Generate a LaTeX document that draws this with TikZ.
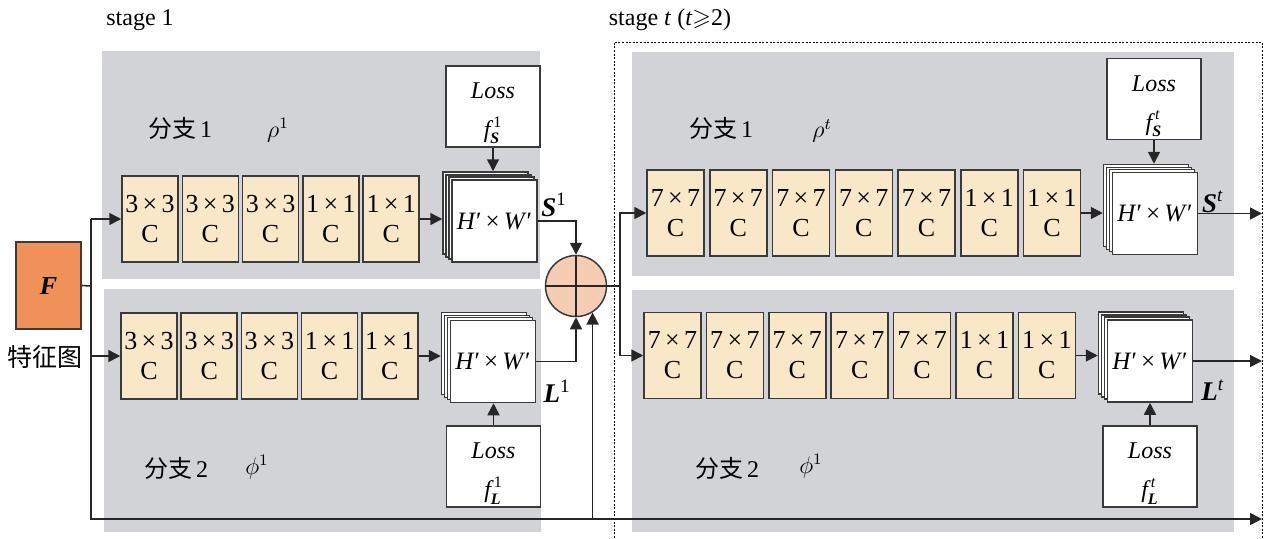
\documentclass[tikz,border=0pt]{standalone}
\usepackage{amsmath,amssymb}
\usepackage{fontspec}
\setmainfont{Liberation Serif}
\newfontfamily\cjk{Noto Sans CJK SC}
\usetikzlibrary{arrows.meta,calc}

\definecolor{panelgray}{HTML}{D1D3D6}
\definecolor{convfill}{HTML}{F9E8C8}
\definecolor{forange}{HTML}{EF9158}
\definecolor{sumfill}{HTML}{F5CDB2}
\definecolor{edge}{HTML}{3A3A3A}

\tikzset{
  conv/.style={draw=edge, line width=0.75pt, fill=convfill, minimum width=28pt,
    minimum height=43pt, inner sep=0pt, align=center,
    font=\fontsize{13}{15}\selectfont},
  layer/.style={draw=edge, line width=0.75pt, fill=white, minimum width=42.5pt,
    minimum height=41pt, inner sep=0pt, font=\fontsize{12.5}{14}\selectfont},
  lossbox/.style={draw=edge, line width=0.75pt, fill=white, minimum width=47pt,
    minimum height=40.5pt, inner sep=0pt, align=center,
    font=\fontsize{12}{17.5}\selectfont},
  link/.style={draw=black!85, line width=0.8pt},
  arr/.style={link, -{Triangle[length=6pt,width=6pt]}},
  lbl/.style={inner sep=0pt, font=\fontsize{12}{14}\selectfont},
}

% stacked feature maps: three back layers and a named front layer
\newcommand{\fmstack}[3]{%
  \node[layer] (#1-3) at (#2-9,#3-8) {};
  \node[layer] (#1-2) at (#2-6,#3-5) {};
  \node[layer] (#1-1) at (#2-3,#3-3) {};
  \node[layer] (#1) at (#2,#3) {\textit{H}′\,×\,\textit{W}′};
}
\newcommand{\lossS}[1]{\rule{0pt}{15pt}\textit{Loss}\\[2pt]$\textit{f}^{\,\text{#1}}_{\text{\bfseries\itshape S}}$}
\newcommand{\lossL}[1]{\rule{0pt}{15pt}\textit{Loss}\\[2pt]$\textit{f}^{\,\text{#1}}_{\text{\bfseries\itshape L}}$}

\begin{document}
\begin{tikzpicture}[x=0.5pt,y=-0.5pt]
\useasboundingbox (0,0) rectangle (1264,538);

% branch panels
\fill[panelgray] (102,51) rectangle (540,279);
\fill[panelgray] (104,289) rectangle (541,532);
\fill[panelgray] (632,52) rectangle (1234,276);
\fill[panelgray] (632,290) rectangle (1234,532);

% frame of stage t
\draw[line width=0.5pt, dash pattern=on 1pt off 0.8pt] (614,538) -- (614,42) -- (1262,42) -- (1262,538);

% titles and branch labels
\node[lbl] (st1) at (140,20) {stage 1};
\node[lbl] (stt) at (670,20) {stage \textit{t} (\textit{t}$\geqslant$2)};
\node[lbl] (b11) at (180,128) {{\cjk 分支}\,1};
\node[lbl] (r11) at (278,130) {$\rho^{1}$};
\node[lbl] (b12) at (176,468) {{\cjk 分支}\,2};
\node[lbl] (p12) at (257,467) {$\phi^{1}$};
\node[lbl] (bt1) at (721,128) {{\cjk 分支}\,1};
\node[lbl] (rt1) at (822,131) {$\rho^{t}$};
\node[lbl] (bt2) at (727,468) {{\cjk 分支}\,2};
\node[lbl] (pt2) at (811,466) {$\phi^{1}$};

% input feature map
\node[draw=edge, line width=1.1pt, fill=forange, minimum width=32.5pt, minimum height=43.5pt,
  inner sep=0pt, font=\fontsize{13}{15}\selectfont] (F) at (48.5,285.5) {\textbf{\textit{F}}};
\node[lbl, font=\fontsize{12.5}{14}\cjk] (Fl) at (45,357) {特征图};

% stage 1 convolution chains
\foreach \k [count=\i] in {3,3,3,1,1}
  \node[conv] (s1a\i) at ({150+60.3*(\i-1)},219) {\k\,×\,\k\\C};
\foreach \k [count=\i] in {3,3,3,1,1}
  \node[conv] (s1b\i) at ({149+60.2*(\i-1)},356) {\k\,×\,\k\\C};

% stage t convolution chains
\foreach \k [count=\i] in {7,7,7,7,7,1,1}
  \node[conv, minimum width=28.5pt] (tA\i) at ({675.5+62.75*(\i-1)},213) {\k\,×\,\k\\C};
\foreach \k [count=\i] in {7,7,7,7,7,1,1}
  \node[conv, minimum width=28.5pt] (tB\i) at ({672.5+62.4*(\i-1)},355.5) {\k\,×\,\k\\C};

% feature map stacks
\fmstack{m1S}{494.5}{221}
\fmstack{m1L}{493}{361.5}
\fmstack{mtS}{1155}{213.5}
\fmstack{mtL}{1150}{361}

% loss boxes
\node[lossbox] (l1S) at (493,106.5) {\lossS{1}};
\node[lossbox] (l1L) at (493.5,466.5) {\lossL{1}};
\node[lossbox] (ltS) at (1154,99) {\lossS{\textit{t}}};
\node[lossbox] (ltL) at (1150,466.5) {\lossL{\textit{t}}};

% fusion node
\node[circle, draw=edge, line width=0.75pt, fill=sumfill, minimum size=30.5pt, inner sep=0pt] (sum) at (576,286) {};
\draw[link] (sum.north) -- (sum.south) (sum.west) -- (sum.east);

% output labels
\node[lbl, font=\fontsize{13.5}{15}\selectfont] (S1) at (554,205) {\textbf{\textit{S}}\textsuperscript{1}};
\node[lbl, font=\fontsize{13.5}{15}\selectfont] (L1) at (557,391) {\textbf{\textit{L}}\textsuperscript{1}};
\node[lbl, font=\fontsize{13.5}{15}\selectfont] (St) at (1213,202) {\textbf{\textit{S}}\textsuperscript{\textit{t}}};
\node[lbl, font=\fontsize{13.5}{15}\selectfont] (Lt) at (1213,390) {\textbf{\textit{L}}\textsuperscript{\textit{t}}};

% input bus and bypass
\coordinate (bx) at (91,286);
\coordinate (byp) at (91,519);
\coordinate (bypend) at (1262,519);
\draw[link] (F.east) -- (bx);
\draw[arr] (bx |- s1a1.west) -- (s1a1.west);
\draw[arr] (bx |- s1b1.west) -- (s1b1.west);
\draw[arr] (bx |- s1a1.west) -- (byp) -- (bypend);
\draw[arr] (sum.-58.4 |- byp) -- (sum.-58.4);

% stage 1 flows
\draw[arr] (s1a5.east) -- (s1a5.east -| m1S-3.west);
\draw[arr] (s1b5.east) -- (s1b5.east -| m1L-3.west);
\draw[arr] (l1S.south) -- (l1S.south |- m1S-3.north);
\draw[arr] (l1L.north) -- (l1L.north |- m1L.south);
\draw[arr] (m1S.east) -| (sum.north);
\draw[arr] (m1L.east) -| (sum.south);

% into stage t
\coordinate (sp) at (620,286);
\draw[link] (sum.east) -- (sp);
\draw[arr] (sp) |- (tA1.west);
\draw[arr] (sp) |- (tB1.west);

% stage t flows
\coordinate (outx) at (1262,0);
\draw[arr] (tA7.east) -- (tA7.east -| mtS-3.west);
\draw[arr] (tB7.east) -- (tB7.east -| mtL-3.west);
\draw[arr] (ltS.south) -- (ltS.south |- mtS-3.north);
\draw[arr] (ltL.north) -- (ltL.north |- mtL.south);
\draw[arr] (mtS.east) -- (mtS.east -| outx);
\draw[arr] (mtL.east) -- (mtL.east -| outx);
\end{tikzpicture}
\end{document}
